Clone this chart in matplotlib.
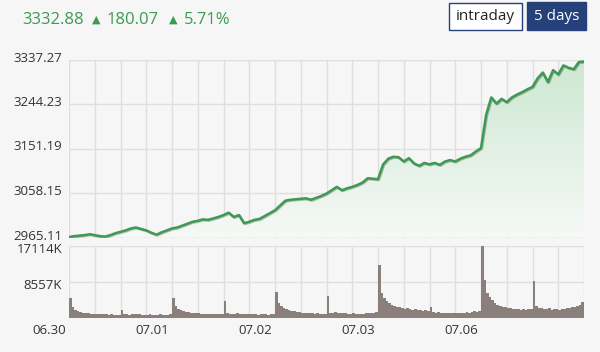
import numpy as np
import matplotlib
matplotlib.use("Agg")
import matplotlib.pyplot as plt
from matplotlib.patches import Rectangle
from matplotlib.colors import LinearSegmentedColormap
import matplotlib.transforms as mtrans
import matplotlib.patheffects as pe

plt.rcParams['font.family'] = ['Open Sans', 'DejaVu Sans']

# header values
last_price = "3332.88"
change = "180.07"
change_pct = "5.71%"

# x axis: 5 trading days, 4 hours each
day_labels = ["06.30", "07.01", "07.02", "07.03", "07.06"]
hours_per_day = 4

# price, evenly spaced over the 5 days
price = [2966, 2968, 2969, 2970, 2972, 2970, 2968, 2967, 2970, 2974,
         2977, 2980, 2984, 2986, 2983, 2980, 2975, 2971, 2976, 2980,
         2984, 2986, 2990, 2994, 2998, 3000, 3003, 3002, 3005, 3008,
         3012, 3017, 3008, 3012, 2995, 2998, 3002, 3004, 3010, 3016,
         3022, 3032, 3042, 3044, 3045, 3046, 3047, 3044, 3048, 3052,
         3057, 3064, 3071, 3064, 3068, 3071, 3075, 3080, 3089, 3088,
         3087, 3118, 3130, 3134, 3133, 3124, 3131, 3120, 3115, 3121,
         3118, 3121, 3117, 3124, 3127, 3124, 3130, 3134, 3137, 3145,
         3152, 3222, 3258, 3245, 3255, 3248, 3258, 3264, 3269, 3275,
         3280, 3298, 3310, 3290, 3315, 3306, 3325, 3320, 3317, 3332,
         3333]

# volume in K, 40 slots per day
vol_0630 = [4750, 2600, 1900, 1600, 1400, 1300, 1200, 1100, 1050, 1000,
            950, 900, 1000, 900, 850, 800, 850, 800, 750, 800,
            1900, 900, 850, 800, 900, 1000, 950, 850, 800, 750,
            800, 850, 800, 750, 800, 850, 800, 750, 800, 900]
vol_0701 = [4800, 2800, 2200, 1900, 1700, 1500, 1400, 1300, 1200, 1150,
            1100, 1050, 1000, 1050, 950, 900, 950, 900, 850, 900,
            4000, 1200, 1000, 950, 900, 1100, 1000, 950, 900, 850,
            900, 950, 850, 800, 850, 900, 850, 800, 850, 950]
vol_0702 = [6200, 3500, 2800, 2400, 2100, 1900, 1700, 1600, 1500, 1400,
            1300, 1250, 1200, 1150, 1100, 1050, 1100, 1000, 1050, 1000,
            5300, 1300, 1200, 1400, 1300, 1200, 1150, 1100, 1000, 1050,
            1100, 1000, 950, 1000, 1050, 1100, 1200, 1300, 1200, 1400]
vol_0703 = [12600, 6000, 4800, 4000, 3500, 3200, 2900, 2700, 2500, 2400,
            2200, 2300, 2100, 2000, 2200, 1900, 1800, 1700, 1800, 1600,
            2700, 1500, 1300, 1400, 1200, 1300, 1250, 1100, 1200, 1150,
            1100, 1300, 1200, 1250, 1400, 1300, 1500, 1600, 1500, 1700]
vol_0706 = [17000, 9000, 6000, 5000, 4200, 3600, 3200, 2900, 2700, 2500,
            2400, 2300, 2200, 2100, 2200, 2000, 2100, 2000, 2200, 2100,
            8800, 2800, 2400, 2300, 2200, 2100, 2300, 2000, 2200, 2100,
            2000, 2200, 2100, 2300, 2400, 2500, 2700, 2900, 3200, 3800]

price_ticks = [2965.11, 3058.15, 3151.19, 3244.23, 3337.27]
vol_ticks = [8557, 17114]

green = "#3c9a52"
bg = "#f6f6f6"
grid_c = "#dfdfdf"
vol_c = "#8a7f7b"
navy = "#26407a"

n_days = len(day_labels)
t_end = n_days * hours_per_day
t_price = np.linspace(0, t_end, len(price))
volume = vol_0630 + vol_0701 + vol_0702 + vol_0703 + vol_0706
t_vol = np.linspace(0, t_end, len(volume) + 1)

fig = plt.figure(figsize=(6, 3.52), dpi=100, facecolor=bg)
W, H = 600, 352
ax = fig.add_axes([69 / W, 1 - 237.5 / H, 515 / W, 178 / H], facecolor=bg)
axv = fig.add_axes([69 / W, 1 - 318 / H, 515 / W, 72 / H], facecolor=bg)

# price panel
ax.set_xlim(0, t_end)
ax.set_ylim(price_ticks[0], price_ticks[-1])
fill = ax.fill_between(t_price, price, price_ticks[0], color="none", lw=0)
grad = np.linspace(0.0, 1.0, 256).reshape(-1, 1)
cmap = LinearSegmentedColormap.from_list("g", [(0.965, 0.975, 0.965, 1), (0.80, 0.91, 0.82, 1)])
img = ax.imshow(grad, cmap=cmap, aspect="auto", origin="lower",
                extent=[0, t_end, price_ticks[0], price_ticks[-1]], zorder=1)
img.set_clip_path(fill.get_paths()[0], transform=ax.transData)
ax.plot(t_price, price, color=green, lw=1.8, zorder=3,
        path_effects=[pe.SimpleLineShadow(offset=(0.6, -0.6), alpha=0.25), pe.Normal()])

ax.set_yticks(price_ticks)
ax.set_yticklabels([f"{v:.2f}" for v in price_ticks])
ax.set_xticks(np.arange(0, t_end + 1, 1))
ax.tick_params(axis="x", labelbottom=False, length=0)
ax.tick_params(axis="y", length=0, pad=5, labelsize=9.5, colors="#333333")
ax.grid(True, color=grid_c, lw=1, zorder=0)
ax.set_axisbelow(True)
for s in ax.spines.values():
    s.set_visible(False)
up = mtrans.ScaledTranslation(0, 3 / 100, fig.dpi_scale_trans)
for lab in ax.get_yticklabels():
    lab.set_transform(lab.get_transform() + up)

# volume panel
axv.stairs(volume, t_vol, fill=True, color=vol_c, lw=0, zorder=2)
axv.set_xlim(0, t_end)
axv.set_ylim(0, vol_ticks[-1])
axv.set_yticks(vol_ticks)
axv.set_yticklabels([f"{v}K" for v in vol_ticks])
axv.set_xticks(np.arange(0, t_end + 1, 1))
axv.set_xticklabels([""] * (t_end + 1))
axv.tick_params(axis="both", length=0)
axv.tick_params(axis="y", pad=5, labelsize=9.5, colors="#333333")
axv.grid(True, color=grid_c, lw=1, zorder=0)
axv.set_axisbelow(True)
for s in axv.spines.values():
    s.set_visible(False)
down = mtrans.ScaledTranslation(0, -2 / 100, fig.dpi_scale_trans)
for lab in axv.get_yticklabels():
    lab.set_transform(lab.get_transform() + down)

for i, lab in enumerate(day_labels):
    xd = (69 + i * hours_per_day * 515 / t_end - 3) / W
    fig.text(xd, 1 - 330 / H, lab, ha="right", va="center", fontsize=9.5, color="#333333")

# header
yh = 1 - 20 / H
fig.text(22 / W, yh, last_price, ha="left", va="center", fontsize=12, color=green)
fig.text(92 / W, yh, "\u25b2", ha="left", va="center", fontsize=8, color=green)
fig.text(107 / W, yh, change, ha="left", va="center", fontsize=12, color=green)
fig.text(169 / W, yh, "\u25b2", ha="left", va="center", fontsize=8, color=green)
fig.text(184 / W, yh, change_pct, ha="left", va="center", fontsize=12, color=green)

# buttons
fig.patches.append(Rectangle((449 / W, 1 - 30 / H), 73 / W, 27 / H, transform=fig.transFigure,
                             facecolor="white", edgecolor=navy, lw=1))
fig.text(485.5 / W, 1 - 17 / H, "intraday", ha="center", va="center", fontsize=11, color="#222222")
fig.patches.append(Rectangle((527 / W, 1 - 30 / H), 59 / W, 28 / H, transform=fig.transFigure,
                             facecolor=navy, edgecolor=navy, lw=1))
fig.text(556.5 / W, 1 - 16.5 / H, "5 days", ha="center", va="center", fontsize=11, color="white")

fig.savefig("out.png", dpi=100, facecolor=bg)
